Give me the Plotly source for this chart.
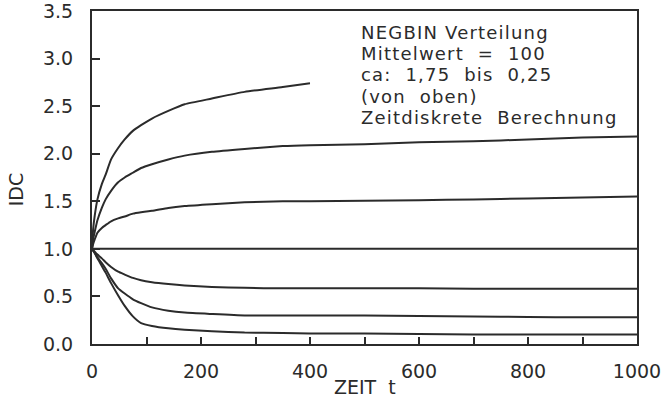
import plotly.graph_objects as go

# time grid (ZEIT t)
t = [0, 2, 5, 10, 18, 25, 35, 48, 60, 75, 90, 110, 140, 170, 220, 280, 350, 400,
     500, 600, 700, 800, 900, 1000]

# IDC curves, ca = 1.75 ... 0.25 (from top)
idc_175 = [1.0, 1.2, 1.35, 1.52, 1.68, 1.78, 1.94, 2.06, 2.15, 2.24, 2.30, 2.37, 2.45,
           2.52, 2.58, 2.65, 2.70, 2.74]
idc_150 = [1.0, 1.1, 1.18, 1.30, 1.43, 1.52, 1.61, 1.70, 1.75, 1.80, 1.85, 1.89, 1.94,
           1.98, 2.02, 2.05, 2.08, 2.09, 2.10, 2.12, 2.13, 2.15, 2.17, 2.18]
idc_125 = [1.0, 1.05, 1.10, 1.17, 1.22, 1.25, 1.29, 1.32, 1.34, 1.37, 1.385, 1.40, 1.43,
           1.45, 1.47, 1.49, 1.50, 1.50, 1.505, 1.51, 1.52, 1.53, 1.54, 1.55]
idc_100 = [1.0, 1.0, 1.0, 1.0, 1.0, 1.0, 1.0, 1.0, 1.0, 1.0, 1.0, 1.0, 1.0,
           1.0, 1.0, 1.0, 1.0, 1.0, 1.0, 1.0, 1.0, 1.0, 1.0, 1.0]
idc_075 = [1.0, 0.99, 0.97, 0.94, 0.90, 0.86, 0.81, 0.76, 0.73, 0.695, 0.67, 0.65, 0.63,
           0.615, 0.60, 0.59, 0.585, 0.585, 0.585, 0.585, 0.58, 0.58, 0.58, 0.58]
idc_050 = [1.0, 0.98, 0.96, 0.91, 0.85, 0.79, 0.69, 0.585, 0.53, 0.47, 0.43, 0.385, 0.35,
           0.33, 0.315, 0.30, 0.30, 0.30, 0.30, 0.295, 0.29, 0.285, 0.28, 0.28]
idc_025 = [1.0, 0.98, 0.955, 0.90, 0.82, 0.75, 0.64, 0.51, 0.40, 0.29, 0.22, 0.19, 0.165,
           0.15, 0.135, 0.12, 0.115, 0.11, 0.11, 0.105, 0.10, 0.10, 0.10, 0.10]

series = [idc_175, idc_150, idc_125, idc_100, idc_075, idc_050, idc_025]

x_ticks = [0, 200, 400, 600, 800, 1000]
y_ticks = [0.0, 0.5, 1.0, 1.5, 2.0, 2.5, 3.0, 3.5]

info_lines = ["NEGBIN Verteilung", "Mittelwert  =  100", "ca:  1,75  bis  0,25",
              "(von  oben)", "Zeitdiskrete  Berechnung"]
x_title = "ZEIT  t"
y_title = "IDC"

ink = "#2b2b2b"
font = "DejaVu Sans"
NB = "\u00a0"

fig = go.Figure()
for ys in series:
    fig.add_trace(go.Scatter(x=t[:len(ys)], y=ys, mode="lines",
                             line=dict(color=ink, width=2, shape="spline", smoothing=0.5),
                             showlegend=False, hoverinfo="skip"))

fig.update_layout(
    width=665, height=400,
    margin=dict(l=92, r=28, t=11, b=56),
    paper_bgcolor="white", plot_bgcolor="white",
    font=dict(family=font, color=ink),
)
fig.update_xaxes(
    range=[0, 1000], tickvals=x_ticks, ticktext=[str(v) for v in x_ticks],
    ticks="inside", ticklen=7, tickwidth=1.5, tickcolor=ink,
    minor=dict(dtick=100, tick0=0, ticks="inside", ticklen=7, tickwidth=1.5, tickcolor=ink,
               showgrid=False),
    showline=True, linecolor=ink, linewidth=2, mirror=True,
    showgrid=False, zeroline=False, automargin=False,
    tickfont=dict(size=19, family=font, color=ink),
    ticklabelstandoff=9,
)
fig.update_yaxes(
    range=[0, 3.5], tickvals=y_ticks, ticktext=[f"{v:.1f}" for v in y_ticks],
    ticks="inside", ticklen=8, tickwidth=1.5, tickcolor=ink,
    showline=True, linecolor=ink, linewidth=2, mirror=True,
    showgrid=False, zeroline=False, automargin=False,
    tickfont=dict(size=19, family=font, color=ink),
    ticklabelstandoff=13, ticklabeloverflow="allow",
)

# axis titles
fig.add_annotation(xref="paper", yref="paper", x=0.5, y=-0.13, xanchor="center",
                   yanchor="middle", text=x_title.replace(" ", NB), showarrow=False,
                   font=dict(size=19, family=font, color=ink))
fig.add_annotation(xref="paper", yref="paper", x=-0.138, y=0.464, xanchor="center",
                   yanchor="middle", text=y_title, textangle=-90, showarrow=False,
                   font=dict(size=19, family=font, color=ink))

# info text block, one line per annotation
for i, line in enumerate(info_lines):
    fig.add_annotation(
        xref="paper", yref="paper", x=0.49, y=(343 - 32 - 21.3 * i) / 332,
        xanchor="left", yanchor="middle",
        text='<span style="letter-spacing:1.2px">' + line.replace(" ", NB) + "</span>",
        showarrow=False, align="left",
        font=dict(size=18, family=font, color=ink),
    )

fig.write_html("out.html", config={"displayModeBar": False},
               post_script="document.body.style.margin='0px';")
